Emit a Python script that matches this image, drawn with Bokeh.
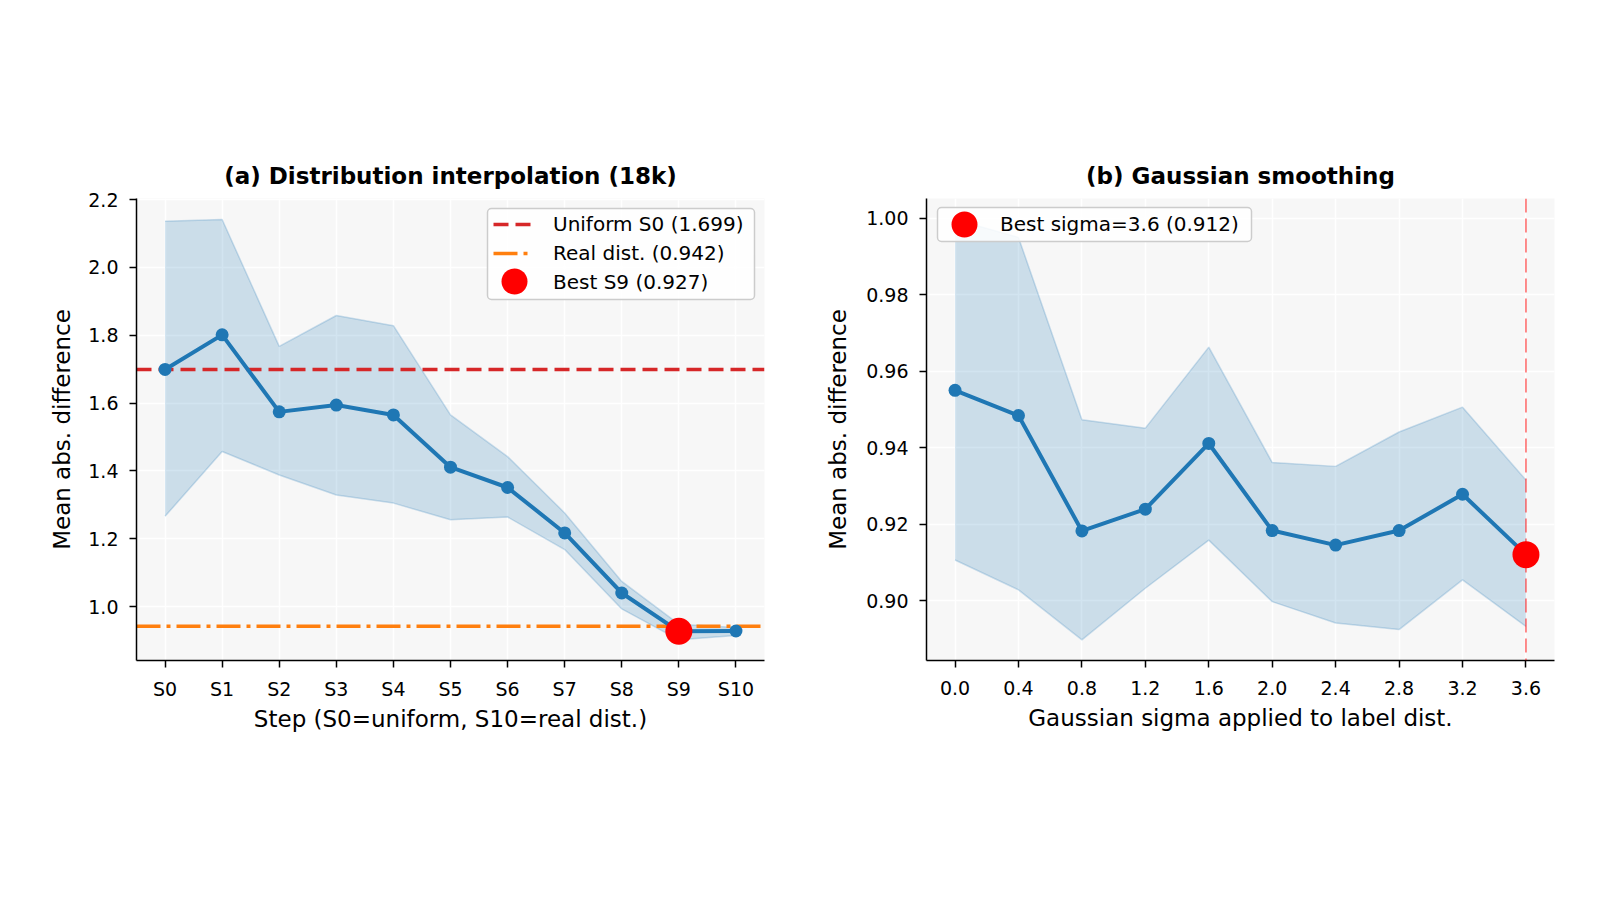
from bokeh.plotting import figure
from bokeh.layouts import row
from bokeh.models import (Range1d, FixedTicker, PrintfTickFormatter, Legend,
                          LegendItem, Span, BoxAnnotation)
from bokeh.embed import file_html
from bokeh.resources import INLINE

FONT = "DejaVu Sans"
BLUE = "#1f77b4"
RED = "#d62728"
ORANGE = "#ff7f0e"

# ---- (a) interpolation between uniform (S0) and the real label distribution (S10)
step_labels = ["S0", "S1", "S2", "S3", "S4", "S5", "S6", "S7", "S8", "S9", "S10"]
step_pos = list(range(len(step_labels)))
interp_mean = [1.699, 1.801, 1.574, 1.594, 1.565, 1.411, 1.351, 1.217, 1.040, 0.927, 0.928]
interp_upper = [2.136, 2.141, 1.767, 1.858, 1.828, 1.565, 1.442, 1.276, 1.074, 0.948, 0.938]
interp_lower = [1.266, 1.457, 1.388, 1.329, 1.305, 1.256, 1.264, 1.168, 0.993, 0.902, 0.915]
uniform_ref = 1.699
real_ref = 0.942
best_step = 9
best_step_value = 0.927
interp_yticks = [1.0, 1.2, 1.4, 1.6, 1.8, 2.0, 2.2]
interp_xlim = (-0.5, 10.5)
interp_ylim = (0.841, 2.203)

# ---- (b) gaussian smoothing of the label distribution
sigmas = [0.0, 0.4, 0.8, 1.2, 1.6, 2.0, 2.4, 2.8, 3.2, 3.6]
smooth_mean = [0.9550, 0.9484, 0.9182, 0.9239, 0.9411, 0.9183, 0.9145, 0.9183, 0.9278, 0.912]
smooth_upper = [0.9997, 0.9950, 0.9473, 0.9451, 0.9663, 0.9361, 0.9351, 0.9441, 0.9506, 0.9315]
smooth_lower = [0.9106, 0.9028, 0.8897, 0.9032, 0.9158, 0.8997, 0.8941, 0.8924, 0.9054, 0.8932]
best_sigma = 3.6
best_sigma_value = 0.912
smooth_yticks = [0.90, 0.92, 0.94, 0.96, 0.98, 1.00]
smooth_xlim = (-0.18, 3.78)
smooth_ylim = (0.8843, 1.0052)

FRAME_TOP = 198
FRAME_H = 462
FIG_H = 900

# legend geometry (px)
LEG_PAD = 5
LEG_ROW = 24
LEG_GAP = 5
LEG_GLYPH_W = 40


def make_fig(title, xlim, ylim, left, right):
    p = figure(width=800, height=FIG_H, x_range=Range1d(*xlim), y_range=Range1d(*ylim),
               output_backend="svg", toolbar_location=None,
               min_border_left=left, min_border_right=right,
               min_border_top=FRAME_TOP, min_border_bottom=FIG_H - FRAME_TOP - FRAME_H)
    p.title.text = title
    p.title.text_font = FONT
    p.title.text_font_size = "23px"
    p.title.text_font_style = "bold"
    p.title.text_color = "black"
    p.title.align = "center"
    p.title.standoff = 19
    p.background_fill_color = "#f7f7f7"
    p.border_fill_color = "white"
    p.outline_line_color = None
    p.grid.grid_line_color = "white"
    p.grid.grid_line_width = 1.6
    for ax in p.axis:
        ax.axis_line_color = "black"
        ax.axis_line_width = 1.5
        ax.major_tick_line_color = "black"
        ax.major_tick_line_width = 1.5
        ax.major_tick_out = 7
        ax.major_tick_in = 0
        ax.minor_tick_line_color = None
        ax.major_label_text_font = FONT
        ax.major_label_text_font_size = "19px"
        ax.major_label_text_color = "black"
        ax.axis_label_text_font = FONT
        ax.axis_label_text_font_size = "23px"
        ax.axis_label_text_font_style = "normal"
        ax.axis_label_text_color = "black"
    p.yaxis.major_label_standoff = 11
    p.yaxis.axis_label_standoff = 12
    return p


def band(p, x, lo, hi):
    p.varea(x=x, y1=lo, y2=hi, fill_color=BLUE, fill_alpha=0.2)
    p.line(x=x, y=hi, line_color=BLUE, line_alpha=0.22, line_width=1.5)
    p.line(x=x, y=lo, line_color=BLUE, line_alpha=0.22, line_width=1.5)


def screen_box(left, bottom, width, height, **kw):
    return BoxAnnotation(left=left, right=left + width, bottom=bottom, top=bottom + height,
                         left_units="screen", right_units="screen",
                         bottom_units="screen", top_units="screen", editable=False, **kw)


def legend_frame(p, left, bottom, width, height):
    # rounded white box behind the legend entries
    p.add_layout(screen_box(left, bottom, width, height,
                            fill_color="white", fill_alpha=0.85,
                            line_color="#cccccc", line_width=1.5, line_alpha=1.0,
                            border_radius=4))


def legend_marker(p, cx, cy, d):
    # larger handle for the highlighted point, centred on the legend's glyph slot
    r = d // 2
    p.add_layout(screen_box(cx - r, cy - r, 2 * r, 2 * r,
                            fill_color="red", fill_alpha=1.0, line_color=None,
                            border_radius=r))


def make_legend(items, loc):
    leg = Legend(items=items, location=loc)
    leg.label_text_font = FONT
    leg.label_text_font_size = "20px"
    leg.label_text_color = "black"
    leg.glyph_width = LEG_GLYPH_W
    leg.glyph_height = LEG_ROW
    leg.label_height = LEG_ROW
    leg.label_standoff = 20
    leg.padding = LEG_PAD
    leg.spacing = LEG_GAP
    leg.margin = 0
    leg.border_line_color = None
    leg.background_fill_color = None
    return leg


# ---------------- panel (a)
pa = make_fig("(a) Distribution interpolation (18k)", interp_xlim, interp_ylim, 136, 36)
pa.xaxis.axis_label = "Step (S0=uniform, S10=real dist.)"
pa.yaxis.axis_label = "Mean abs. difference"
pa.xaxis.ticker = FixedTicker(ticks=step_pos)
pa.xaxis.major_label_overrides = {i: s for i, s in zip(step_pos, step_labels)}
pa.xaxis.major_label_standoff = 10
pa.xaxis.axis_label_standoff = 3
pa.yaxis.ticker = FixedTicker(ticks=interp_yticks)
pa.yaxis.formatter = PrintfTickFormatter(format="%.1f")
pa.yaxis.axis_label_standoff = 10

band(pa, step_pos, interp_lower, interp_upper)
r_uni = pa.line(x=list(interp_xlim), y=[uniform_ref, uniform_ref], line_color=RED,
                line_width=3.5, line_dash="15 7")
r_real = pa.line(x=list(interp_xlim), y=[real_ref, real_ref], line_color=ORANGE,
                 line_width=3.5, line_dash="24 6 4 6")
pa.line(x=step_pos, y=interp_mean, line_color=BLUE, line_width=4)
pa.scatter(x=step_pos, y=interp_mean, size=13, fill_color=BLUE, line_color=None)
r_best_a = pa.scatter(x=[step_pos[best_step]], y=[best_step_value], size=27,
                      fill_color="red", line_color=None)

legend_frame(pa, 351, 361, 267, 91)
legend_marker(pa, 378, 379, 26)
pa.add_layout(make_legend([
    LegendItem(label=f"Uniform S0 ({uniform_ref:.3f})", renderers=[r_uni]),
    LegendItem(label=f"Real dist. ({real_ref:.3f})", renderers=[r_real]),
    LegendItem(label=f"Best {step_labels[best_step]} ({best_step_value:.3f})", renderers=[r_best_a]),
], (357, 366)))

# ---------------- panel (b)
pb = make_fig("(b) Gaussian smoothing", smooth_xlim, smooth_ylim, 126, 46)
pb.xaxis.axis_label = "Gaussian sigma applied to label dist."
pb.yaxis.axis_label = "Mean abs. difference"
pb.xaxis.ticker = FixedTicker(ticks=sigmas)
pb.xaxis.formatter = PrintfTickFormatter(format="%.1f")
pb.xaxis.major_label_standoff = 13
pb.xaxis.axis_label_standoff = 7
pb.yaxis.ticker = FixedTicker(ticks=smooth_yticks)
pb.yaxis.formatter = PrintfTickFormatter(format="%.2f")

band(pb, sigmas, smooth_lower, smooth_upper)
pb.add_layout(Span(location=best_sigma, dimension="height", line_color="red",
                   line_alpha=0.6, line_width=1.5, line_dash="14 6"))
pb.line(x=sigmas, y=smooth_mean, line_color=BLUE, line_width=4)
pb.scatter(x=sigmas, y=smooth_mean, size=13, fill_color=BLUE, line_color=None)
r_best_b = pb.scatter(x=[best_sigma], y=[best_sigma_value], size=27,
                      fill_color="red", line_color=None)

legend_frame(pb, 11, 419, 314, 34)
legend_marker(pb, 38, 436, 26)
pb.add_layout(make_legend([
    LegendItem(label=f"Best sigma={best_sigma} ({best_sigma_value:.3f})", renderers=[r_best_b]),
], (14, 424)))

layout = row(pa, pb)
open("out.html", "w").write(file_html(layout, INLINE))
